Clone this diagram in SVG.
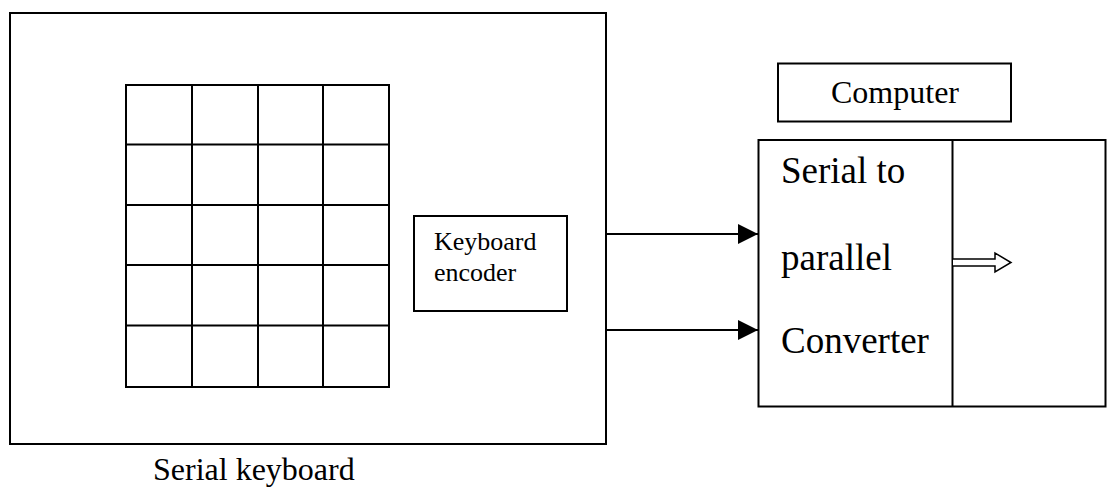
<svg xmlns="http://www.w3.org/2000/svg" width="1107" height="495" viewBox="0 0 1107 495">
  <style>
    .box { fill: #fff; stroke: #000; stroke-width: 2; }
    .grid { fill: none; stroke: #000; stroke-width: 2; }
    .wire { fill: none; stroke: #000; stroke-width: 2; }
    .lbl { font-family: "Liberation Serif", "Times New Roman", serif; fill: #000; }
  </style>
  <defs>
    <marker id="head" viewBox="0 0 20 20" refX="20" refY="10" markerWidth="20" markerHeight="20" markerUnits="userSpaceOnUse" orient="auto">
      <path d="M0,0 L20,10 L0,20 Z" fill="#000"/>
    </marker>
  </defs>

  <rect width="1107" height="495" fill="#fff"/>

  <!-- Serial keyboard enclosure with key matrix -->
  <g id="keyboard">
    <rect class="box" x="10" y="13" width="596" height="431"/>
    <g class="grid">
      <rect x="126" y="85" width="263" height="302"/>
      <line x1="192" y1="85" x2="192" y2="387"/>
      <line x1="258" y1="85" x2="258" y2="387"/>
      <line x1="323" y1="85" x2="323" y2="387"/>
      <line x1="126" y1="144.5" x2="389" y2="144.5"/>
      <line x1="126" y1="205" x2="389" y2="205"/>
      <line x1="126" y1="265" x2="389" y2="265"/>
      <line x1="126" y1="325.5" x2="389" y2="325.5"/>
    </g>
    <text class="lbl" x="153" y="480" font-size="32">Serial keyboard</text>
  </g>

  <!-- Encoder block -->
  <g id="encoder">
    <rect class="box" x="414" y="216" width="153" height="95"/>
    <text class="lbl" x="434" y="250" font-size="26">Keyboard</text>
    <text class="lbl" x="434" y="281" font-size="26">encoder</text>
  </g>

  <!-- Computer title -->
  <g id="computer">
    <rect class="box" x="778" y="63.5" width="233" height="58"/>
    <text class="lbl" x="831" y="103" font-size="32">Computer</text>
  </g>

  <!-- Serial to parallel converter -->
  <g id="converter">
    <rect class="box" x="758.5" y="140" width="347" height="266.5"/>
    <line class="wire" x1="952.5" y1="140" x2="952.5" y2="406.5"/>
    <text class="lbl" x="781" y="183" font-size="37">Serial to</text>
    <text class="lbl" x="781" y="270" font-size="37">parallel</text>
    <text class="lbl" x="781" y="353" font-size="37">Converter</text>
    <!-- hollow output arrow -->
    <path d="M953,259 L995,259 L995,253 L1011,262.5 L995,272 L995,266 L953,266" fill="#fff" stroke="#000" stroke-width="1.5"/>
  </g>

  <!-- Serial lines into the converter -->
  <g id="connectors">
    <line class="wire" x1="606" y1="234" x2="758" y2="234" marker-end="url(#head)"/>
    <line class="wire" x1="606" y1="330" x2="758" y2="330" marker-end="url(#head)"/>
  </g>
</svg>
